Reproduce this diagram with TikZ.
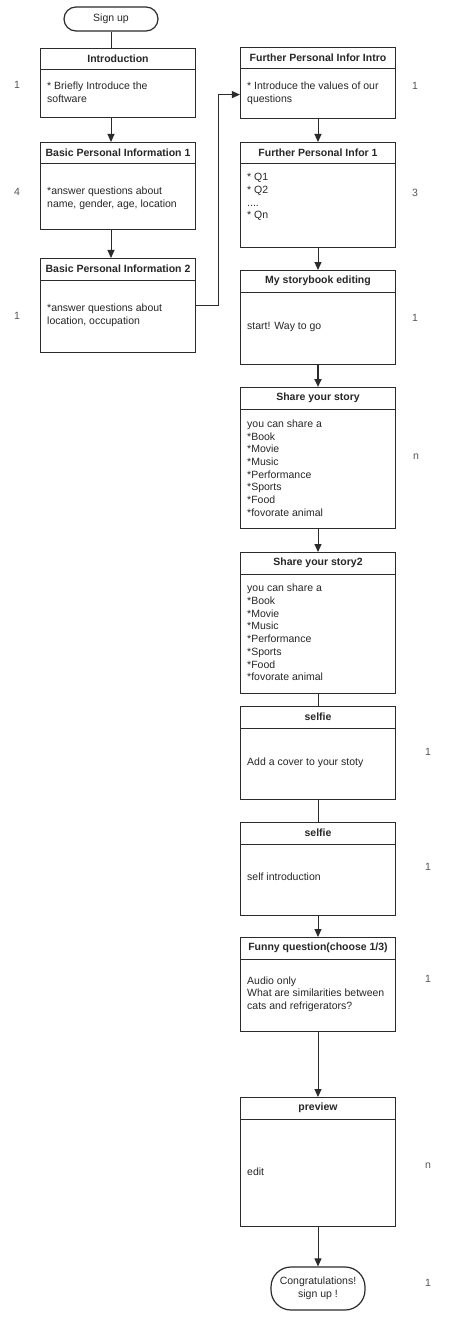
\documentclass[tikz,border=0pt]{standalone}
\usepackage{fontspec}
\setmainfont{Liberation Sans}
\usepackage{xcolor}
\definecolor{Ink}{HTML}{2B2B2B}
\definecolor{Tally}{HTML}{555555}
\usetikzlibrary{positioning,calc,arrows.meta}

\begin{document}
\begin{tikzpicture}[x=1pt,y=-1pt,
 txt/.style={font=\fontsize{10.5}{12.7}\selectfont,text=Ink!90!black,inner sep=0pt},
 card/.style={draw=Ink,line width=1.2pt,minimum width=155pt,inner sep=0pt},
 head/.style={txt,font=\fontsize{10.5}{12.7}\selectfont\bfseries},
 body/.style={txt,anchor=west,align=left},
 term/.style={draw=Ink,line width=1.2pt,txt,align=center,minimum width=94pt},
 tally/.style={txt,text=Tally},
 flow/.style={Ink,line width=1pt,-{Triangle[length=8pt,width=7pt]}},
 link/.style={Ink,line width=1pt}]
\fill[white] (0,0) rectangle (472,1332);
% start and end
\node[term,minimum height=24pt,rounded corners=12pt] (signup) at (111,19) {Sign up};
\node[term,minimum height=43pt,rounded corners=20pt] (congrats) at (318,1288.5) {Congratulations!\\sign up !};
% boxes with a title row
\foreach \nm/\cx/\top/\bot/\ttl in {intro/118/48/117/Introduction,
  basic1/118/142/229/Basic Personal Information 1,
  basic2/118/258/352/Basic Personal Information 2,
  furtherIntro/318/47/118/Further Personal Infor Intro,
  further1/318/142/247/Further Personal Infor 1,
  storybook/318/270/364/My storybook editing,
  share1/318/387/528/Share your story,
  share2/318/552/693/Share your story2,
  selfie1/318/706/799/selfie,
  selfie2/318/822/915/selfie,
  funny/318/937/1031/{Funny question(choose 1/3)},
  preview/318/1097/1226/preview} {
  \node[card,minimum height={\bot-\top},anchor=north] (\nm) at (\cx,\top) {};
  \node[head] (\nm-t) at ([yshift=-11pt]\nm.north) {\ttl};
  \draw[Ink,line width=1pt] ([yshift=-22pt]\nm.north west) -- ([yshift=-22pt]\nm.north east);
}
\node[body] (intro-b) at (47,92.5) {* Briefly Introduce the\\software};
\node[body] (basic1-b) at (47,198) {*answer questions about\\name, gender, age, location};
\node[body] (basic2-b) at (47,315.5) {*answer questions about\\location, occupation};
\node[body] (furtherIntro-b) at (247,93) {* Introduce the values of our\\questions};
\node[body] (further1-b) at (247,197) {* Q1\\* Q2\\....\\* Qn};
\node[body] (storybook-b) at (247,327) {start! Way to go};
\node[body] (share1-b) at (247,468) {you can share a\\*Book\\*Movie\\*Music\\*Performance\\*Sports\\*Food\\*fovorate animal};
\node[body] (share2-b) at (247,632.5) {you can share a\\*Book\\*Movie\\*Music\\*Performance\\*Sports\\*Food\\*fovorate animal};
\node[body] (selfie1-b) at (247,763) {Add a cover to your stoty};
\node[body] (selfie2-b) at (247,877) {self introduction};
\node[body] (funny-b) at (247,994) {Audio only\\What are similarities between\\cats and refrigerators?};
\node[body] (preview-b) at (247,1172) {edit};
% counts beside the boxes
\foreach \x/\y/\v [count=\i] in {17/85/1,17/192/4,17/316/1,415/86/1,415/193/3,415/318/1,
  416/457/n,428/752/1,428/867/1,428/979/1,428/1166/n,428/1283/1}
  \node[tally] (tally-\i) at (\x,\y) {\v};
% connectors
\draw[link] (signup) -- (signup |- intro.north);
\draw[flow] (intro.south -| signup) -- (basic1.north -| signup);
\draw[flow] (basic1.south -| signup) -- (basic2.north -| signup);
\draw[flow] (basic2.east) -- ++(22,0) |- ([yshift=-11.5pt]furtherIntro.west);
\draw[flow] (furtherIntro) -- (further1);
\draw[flow] (further1) -- (storybook);
\draw[flow,line width=2pt] (storybook) -- (share1);
\draw[flow] (share1) -- (share2);
\draw[link] (share2) -- (selfie1);
\draw[link] (selfie1) -- (selfie2);
\draw[flow] (selfie2) -- (funny);
\draw[flow] (funny) -- (preview);
\draw[flow] (preview) -- (congrats);
\end{tikzpicture}
\end{document}
